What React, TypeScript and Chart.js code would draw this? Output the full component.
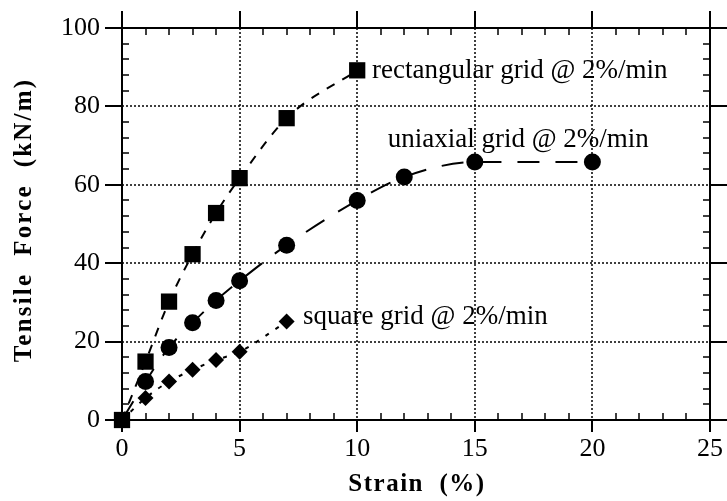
import React, { useEffect, useRef } from "react";
import { Chart, registerables } from "chart.js";
Chart.register(...registerables);

// ---- data ----
const rectStrain = [0, 1, 2, 3, 4, 5, 7, 10];
const rectForce = [0, 14.9, 30.2, 42.3, 52.8, 61.7, 77, 89.2];
const uniStrain = [0, 1, 2, 3, 4, 5, 7, 10, 12, 15, 20];
const uniForce = [0, 9.8, 18.5, 24.8, 30.5, 35.5, 44.6, 56, 62, 65.8, 65.8];
const sqStrain = [0, 1, 2, 3, 4, 5, 7];
const sqForce = [0, 5.6, 9.8, 12.8, 15.3, 17.4, 25.1];

const xTicks = [0, 5, 10, 15, 20, 25];
const yTicks = [0, 20, 40, 60, 80, 100];
const xMinorStep = 1;
const yMinorStep = 4;

const labelTexts = ["rectangular grid @ 2%/min", "uniaxial grid @ 2%/min", "square grid @ 2%/min"];
const labelX = [10.63, 11.3, 7.7];
const labelY = [87.3, 69.6, 24.5];

const xTitle = "Strain  (%)";
const yTitle = "Tensile  Force  (kN/m)";

const SERIF = '"Liberation Serif", "Times New Roman", serif';

const framePlugin = {
  id: "frame",
  beforeDatasetsDraw(chart: any) {
    const { ctx, chartArea, scales } = chart;
    const { left, right, top, bottom } = chartArea;
    const x = scales.x;
    const y = scales.y;
    ctx.save();
    ctx.strokeStyle = "#000";
    // dotted grid
    ctx.lineWidth = 1.5;
    ctx.setLineDash([2, 2]);
    xTicks.slice(1, -1).forEach((v) => {
      const px = Math.round(x.getPixelForValue(v));
      ctx.beginPath();
      ctx.moveTo(px, top);
      ctx.lineTo(px, bottom);
      ctx.stroke();
    });
    yTicks.slice(1, -1).forEach((v) => {
      const py = Math.round(y.getPixelForValue(v));
      ctx.beginPath();
      ctx.moveTo(left, py);
      ctx.lineTo(right, py);
      ctx.stroke();
    });
    ctx.setLineDash([]);
    // frame
    ctx.lineWidth = 2;
    ctx.strokeRect(left, top, right - left, bottom - top);
    // minor ticks (inward)
    ctx.lineWidth = 1.5;
    const xmin = xTicks[0], xmax = xTicks[xTicks.length - 1];
    for (let v = xmin; v <= xmax; v += xMinorStep) {
      if (xTicks.includes(v)) continue;
      const px = Math.round(x.getPixelForValue(v));
      ctx.beginPath();
      ctx.moveTo(px, bottom);
      ctx.lineTo(px, bottom - 7);
      ctx.moveTo(px, top);
      ctx.lineTo(px, top + 7);
      ctx.stroke();
    }
    const ymin = yTicks[0], ymax = yTicks[yTicks.length - 1];
    for (let v = ymin; v <= ymax; v += yMinorStep) {
      if (yTicks.includes(v)) continue;
      const py = Math.round(y.getPixelForValue(v));
      ctx.beginPath();
      ctx.moveTo(left, py);
      ctx.lineTo(left + 7, py);
      ctx.moveTo(right, py);
      ctx.lineTo(right - 7, py);
      ctx.stroke();
    }
    // major ticks (outward)
    ctx.lineWidth = 2;
    xTicks.forEach((v) => {
      const px = Math.round(x.getPixelForValue(v));
      ctx.beginPath();
      ctx.moveTo(px, bottom);
      ctx.lineTo(px, bottom + 12);
      ctx.moveTo(px, top);
      ctx.lineTo(px, top - 17);
      ctx.stroke();
    });
    yTicks.forEach((v) => {
      const py = Math.round(y.getPixelForValue(v));
      ctx.beginPath();
      ctx.moveTo(left, py);
      ctx.lineTo(left - 17, py);
      ctx.moveTo(right, py);
      ctx.lineTo(right + 17, py);
      ctx.stroke();
    });
    ctx.restore();
  },
  afterDraw(chart: any) {
    const { ctx, chartArea, scales } = chart;
    const { left, right, top, bottom } = chartArea;
    const x = scales.x;
    const y = scales.y;
    ctx.save();
    ctx.fillStyle = "#000";
    // series labels
    ctx.font = `27px ${SERIF}`;
    ctx.textAlign = "left";
    ctx.textBaseline = "alphabetic";
    labelTexts.forEach((t, i) => {
      ctx.fillText(t, x.getPixelForValue(labelX[i]), y.getPixelForValue(labelY[i]));
    });
    // axis titles
    ctx.font = `bold 25px ${SERIF}`;
    ctx.textAlign = "center";
    (ctx as any).letterSpacing = "1.5px";
    ctx.fillText(xTitle, (left + right) / 2 + 1, 491);
    ctx.translate(31, (top + bottom) / 2 - 4);
    ctx.rotate(-Math.PI / 2);
    (ctx as any).letterSpacing = "2.2px";
    ctx.fillText(yTitle, 0, 0);
    ctx.restore();
  },
};

const zeroPad = (s: any) => {
  s.paddingLeft = 0;
  s.paddingRight = 0;
  s.paddingTop = 0;
  s.paddingBottom = 0;
};

export default function App() {
  const ref = useRef<HTMLCanvasElement | null>(null);
  useEffect(() => {
    if (!ref.current) return;
    const toPts = (xs: number[], ys: number[]) => xs.map((v, i) => ({ x: v, y: ys[i] }));
    const chart = new Chart(ref.current, {
      type: "scatter",
      data: {
        datasets: [
          {
            label: "rectangular grid @ 2%/min",
            data: toPts(rectStrain, rectForce),
            showLine: true,
            clip: false,
            borderColor: "#000",
            backgroundColor: "#000",
            borderWidth: 2,
            borderDash: [9, 9],
            pointStyle: "rect",
            pointRadius: 11.5,
            pointBorderWidth: 0,
            cubicInterpolationMode: "monotone",
          },
          {
            label: "uniaxial grid @ 2%/min",
            data: toPts(uniStrain, uniForce),
            showLine: true,
            clip: false,
            borderColor: "#000",
            backgroundColor: "#000",
            borderWidth: 2,
            borderDash: [22, 16],
            pointStyle: "circle",
            pointRadius: uniStrain.map((v, i) => (i === 0 ? 0 : 8.5)),
            pointBorderWidth: 0,
            cubicInterpolationMode: "monotone",
          },
          {
            label: "square grid @ 2%/min",
            data: toPts(sqStrain, sqForce),
            showLine: true,
            clip: false,
            borderColor: "#000",
            backgroundColor: "#000",
            borderWidth: 2,
            borderDash: [4, 8],
            pointStyle: "rectRot",
            pointRadius: sqStrain.map((v, i) => (i === 0 ? 0 : 8)),
            pointBorderWidth: 0,
            cubicInterpolationMode: "monotone",
          },
        ],
      },
      options: {
        animation: false,
        responsive: false,
        devicePixelRatio: 1,
        layout: { padding: { top: 28, right: 17, left: 0, bottom: 0 } },
        plugins: { legend: { display: false }, tooltip: { enabled: false } },
        scales: {
          x: {
            type: "linear",
            min: xTicks[0],
            max: xTicks[xTicks.length - 1],
            afterBuildTicks: (s: any) => {
              s.ticks = xTicks.map((v) => ({ value: v }));
            },
            afterFit: (s: any) => {
              s.height = 81;
              zeroPad(s);
            },
            ticks: {
              color: "#000",
              font: { family: SERIF, size: 26 },
              padding: 14,
              maxRotation: 0,
              autoSkip: false,
            },
            grid: { display: false, drawTicks: false },
            border: { display: false },
          },
          y: {
            type: "linear",
            min: yTicks[0],
            max: yTicks[yTicks.length - 1],
            afterBuildTicks: (s: any) => {
              s.ticks = yTicks.map((v) => ({ value: v }));
            },
            afterFit: (s: any) => {
              s.width = 122;
              zeroPad(s);
            },
            ticks: {
              color: "#000",
              font: { family: SERIF, size: 26 },
              padding: 22,
              autoSkip: false,
            },
            grid: { display: false, drawTicks: false },
            border: { display: false },
          },
        },
      },
      plugins: [framePlugin],
    } as any);
    return () => chart.destroy();
  }, []);
  return (
    <div style={{ position: "absolute", left: 0, top: 0, width: 727, height: 501, background: "#fff" }}>
      <canvas ref={ref} width={727} height={501} />
    </div>
  );
}
